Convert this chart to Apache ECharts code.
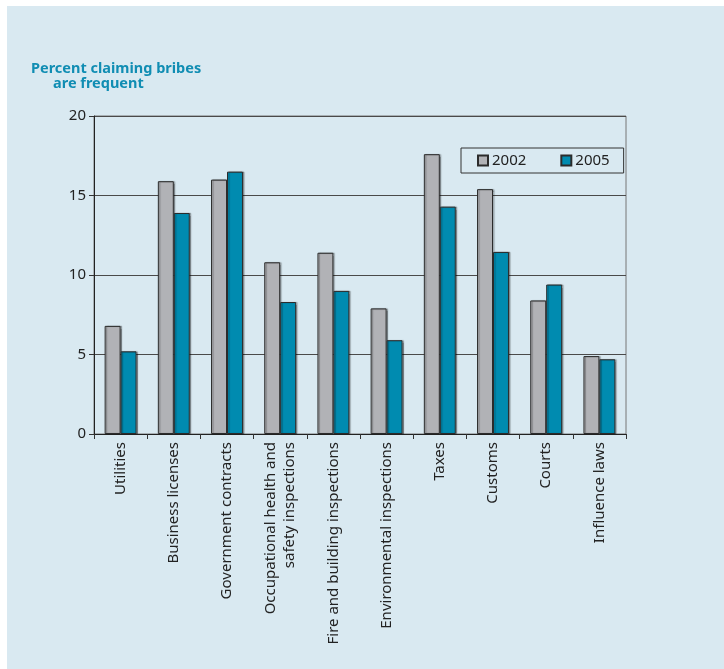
<!DOCTYPE html>
<html>
<head>
<meta charset="utf-8">
<script src="https://cdn.jsdelivr.net/npm/echarts@6/dist/echarts.min.js"></script>
<style>
html,body{margin:0;padding:0;background:#fff;}
#chart{width:724px;height:669px;}
</style>
</head>
<body>
<div id="chart"></div>
<script>
const categories = ["Utilities", "Business licenses", "Government contracts", "Occupational health and\nsafety inspections", "Fire and building inspections", "Environmental inspections", "Taxes", "Customs", "Courts", "Influence laws"];
const values2002 = [6.8, 15.9, 16.0, 10.8, 11.4, 7.9, 17.6, 15.4, 8.4, 4.9];
const values2005 = [5.2, 13.9, 16.5, 8.3, 9.0, 5.9, 14.3, 11.45, 9.4, 4.7];
const yTicks = { min: 0, max: 20, interval: 5 };

const chart = echarts.init(document.getElementById('chart'), null, { renderer: 'canvas' });
const font = 'Noto Sans';
const barBase = { borderColor: '#2b2b2b', borderWidth: 1, shadowColor: 'rgba(0,0,0,0.3)', shadowOffsetX: 1.5, shadowOffsetY: 0, shadowBlur: 1 };
chart.setOption({
  backgroundColor: '#ffffff',
  animation: false,
  graphic: [{
    type: 'rect', z: -10, silent: true,
    shape: { x: 7, y: 6, width: 717, height: 663 },
    style: { fill: '#d9e9f1' }
  }],
  title: [
    { text: 'Percent claiming bribes', left: 31, top: 61, padding: 0,
      textStyle: { fontFamily: font, fontWeight: 'bold', fontSize: 14.5, color: '#108db3' } },
    { text: 'are frequent', left: 53, top: 76, padding: 0,
      textStyle: { fontFamily: font, fontWeight: 'bold', fontSize: 14.5, color: '#108db3' } }
  ],
  legend: {
    left: 461, top: 148, width: 161,
    padding: [5, 14, 5, 16],
    borderColor: '#333', borderWidth: 1,
    itemWidth: 10, itemHeight: 10, itemGap: 34,
    icon: 'rect',
    textStyle: { fontFamily: font, fontSize: 15, color: '#222', padding: [0, 0, 0, -1] },
    data: ['2002', '2005']
  },
  grid: { left: 94, right: 98, top: 116, bottom: 235, show: true, borderColor: '#777', borderWidth: 1, backgroundColor: 'transparent' },
  xAxis: {
    type: 'category',
    data: categories,
    boundaryGap: true,
    axisLine: { lineStyle: { color: '#222', width: 1 } },
    axisTick: { show: true, alignWithLabel: false, length: 5, lineStyle: { color: '#333' } },
    axisLabel: { rotate: 90, interval: 0, margin: 8, fontFamily: font, fontSize: 15, color: '#222', lineHeight: 19 }
  },
  yAxis: {
    type: 'value',
    min: yTicks.min, max: yTicks.max, interval: yTicks.interval,
    axisLine: { show: true, lineStyle: { color: '#222' } },
    axisTick: { show: true, length: 5, inside: false, lineStyle: { color: '#333' } },
    axisLabel: { fontFamily: font, fontSize: 15, color: '#222', margin: 8 },
    splitLine: { lineStyle: { color: '#4a4a4a', width: 1 } }
  },
  series: [
    { name: '2002', type: 'bar', data: values2002, barGap: '0%', barCategoryGap: '40%',
      itemStyle: Object.assign({ color: '#b1b2b6' }, barBase) },
    { name: '2005', type: 'bar', data: values2005,
      itemStyle: Object.assign({ color: '#008bb0' }, barBase) }
  ]
});
</script>
</body>
</html>
